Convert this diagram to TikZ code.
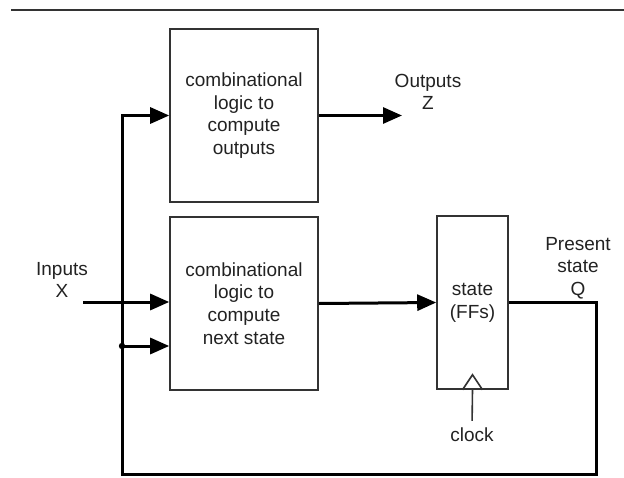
\documentclass[tikz,border=0pt]{standalone}
\usepackage{fontspec}
\setmainfont{Liberation Sans}
\usetikzlibrary{arrows.meta}
\definecolor{ink}{HTML}{222222}
\definecolor{edge}{HTML}{333333}
\begin{document}
\begin{tikzpicture}[x=1pt,y=-1pt,
  blockbox/.style={draw=edge,line width=1.6pt,minimum height=173pt,inner sep=0pt,align=center,text=ink,
    font=\fontsize{19}{22.7}\selectfont},
  lbl/.style={align=center,text=ink,inner sep=0pt,font=\fontsize{19}{22.7}\selectfont},
  wire/.style={line width=3pt,black},
  awire/.style={wire,-{Triangle[length=19pt,width=16pt]}},
]
\useasboundingbox (0,0) rectangle (624,477);
\draw[line width=2pt,edge] (11,9.5) -- (624,9.5);
% blocks
\node[blockbox,minimum width=148pt] (b1) at (244,115.5) {combinational\\logic to\\compute\\outputs};
\node[blockbox,minimum width=148pt] (b2) at (244,303.5) {combinational\\logic to\\compute\\next state};
\node[blockbox,minimum width=71pt] (st) at (472.5,302.5) {state\\(FFs)};
% labels
\node[lbl] (zl) at (428,92) {Outputs\\Z};
\node[lbl] (xl) at (62,280) {Inputs\\X};
\node[lbl] (ql) at (578,268) {Present\\state\\Q};
\node[lbl] (clk) at (472,435) {clock};
% coordinates
\coordinate (zout) at (402,115.5);
\coordinate (xin) at (83,302);
\coordinate (j) at (122,346);
\coordinate (fbR) at (596,474);
\coordinate (fbL) at (122,474);
% connectors
\draw[awire] (b1.east) -- (zout);
\draw[awire] (xin) -- (xin -| b2.west);
\draw[awire] (b2.east) -- (st.west);
\draw[awire] (st.east) -| (fbR) -- (fbL) |- (b1.west);
\draw[awire] (j) -- (j -| b2.west);
\fill (j) circle (3.2);
% clock
\draw[edge,line width=1.6pt,line join=miter] (st.south) ++(-10,0) -- ++(10,-15) -- ++(10,15);
\draw[edge,line width=1.6pt,shorten >=7pt] (st.south) -- (clk.north);
\end{tikzpicture}
\end{document}
